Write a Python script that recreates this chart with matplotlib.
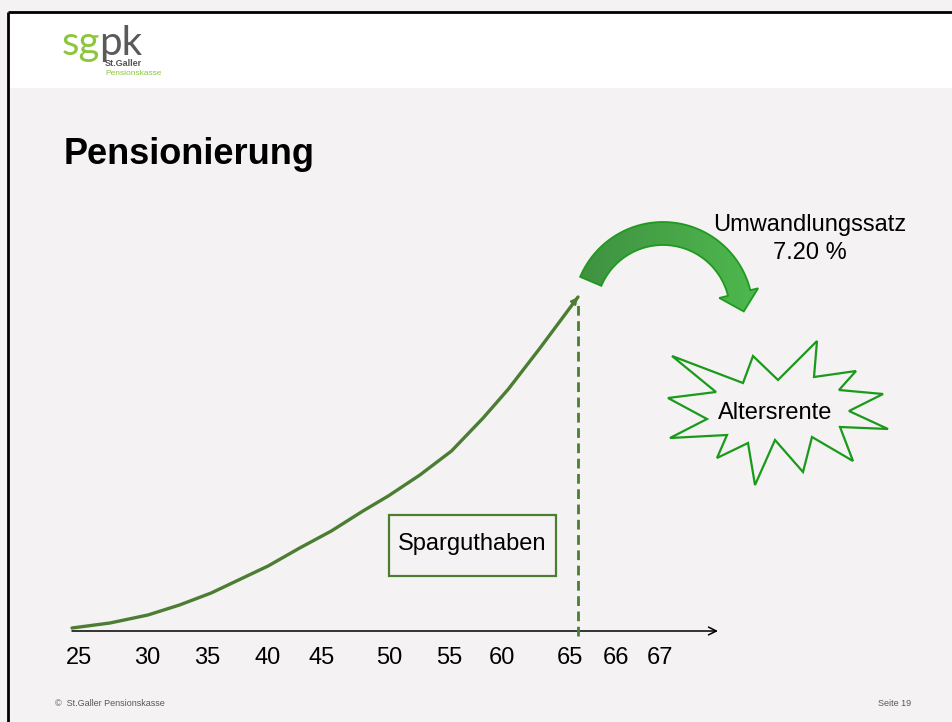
import numpy as np
import matplotlib.pyplot as plt
from matplotlib.patches import Rectangle, Polygon
import matplotlib.colors as mcolors

plt.rcParams['font.family'] = ['Liberation Sans', 'DejaVu Sans']

W, H = 952, 722

# savings balance over age (arbitrary units)
ages = [25, 28, 31, 33.5, 36, 38.5, 40.5, 43, 45.5, 48, 50, 52.5, 55, 57.5, 59.5, 62, 64, 65]
savings = [3, 8, 16, 26, 38, 53, 65, 83, 100, 120, 135, 156, 180, 213, 242, 283, 317, 334]

tick_labels = ['25', '30', '35', '40', '45', '50', '55', '60', '65', '66', '67']
tick_px = [79, 147, 207, 268, 322, 389, 449, 502, 570, 616, 660]

# explosion shape outline (slide pixels)
star_x = [672, 743, 753, 778, 817, 814, 856, 839, 883, 849, 888, 840,
          853, 812, 803, 775, 755, 748, 717, 727, 670, 707, 668, 716]
star_y = [356, 383, 356, 380, 341, 377, 371, 390, 394, 411, 429, 427,
          461, 437, 472, 440, 485, 443, 458, 435, 438, 419, 398, 392]

GREEN = '#4b7d33'
BG = '#f4f2f3'

fig = plt.figure(figsize=(W / 100, H / 100), dpi=100)
fig.patch.set_facecolor(BG)
ax = fig.add_axes([0, 0, 1, 1])
ax.set_axis_off()

# slide frame + white header
ax.add_patch(Rectangle((8, 12), W, 76, facecolor='white', edgecolor='none'))
ax.plot([8, W], [12, 12], color='black', lw=2, solid_capstyle='butt')
ax.plot([8, 8], [12, H], color='black', lw=2, solid_capstyle='butt')

# logo
ax.text(62, 55, 'sg', color='#8cc63e', fontsize=29, family=['Lato', 'DejaVu Sans'],
        va='baseline')
ax.text(99, 55, 'pk', color='#5a5a5a', fontsize=29, family=['Lato', 'DejaVu Sans'],
        va='baseline')
ax.text(105, 66, 'St.Galler', color='#555555', fontsize=6.5, fontweight='bold', va='baseline')
ax.text(105, 75, 'Pensionskasse', color='#8cc63e', fontsize=6, va='baseline')

# title
ax.text(64, 155, 'Pensionierung', fontsize=26, fontweight='bold', va='center')

# x axis with arrow
ax.annotate('', xy=(718, 631), xytext=(72, 631),
            arrowprops=dict(arrowstyle='->', color='black', lw=1.1,
                            shrinkA=0, shrinkB=0, mutation_scale=14))
for lab, xp in zip(tick_labels, tick_px):
    ax.text(xp, 658, lab, fontsize=17, ha='center', va='center')

# Sparguthaben box
ax.add_patch(Rectangle((389, 515), 167, 61, fill=False, edgecolor=GREEN, lw=1.6))
ax.text(472, 544, 'Sparguthaben', fontsize=17, ha='center', va='center')

# curved block arrow
cx, cy, r_o, r_i = 663, 312, 90, 67
t_end = np.radians(14)
th = np.radians(np.linspace(157, 14, 60))
outer = np.column_stack([cx + r_o * np.cos(th), cy - r_o * np.sin(th)])
inner = np.column_stack([cx + r_i * np.cos(th[::-1]), cy - r_i * np.sin(th[::-1])])
r_m = (r_o + r_i) / 2
tang = np.array([np.sin(t_end), np.cos(t_end)])
head_o = [cx + 98 * np.cos(t_end), cy - 98 * np.sin(t_end)]
head_i = [cx + 58 * np.cos(t_end), cy - 58 * np.sin(t_end)]
mid = np.array([cx + r_m * np.cos(t_end), cy - r_m * np.sin(t_end)])
tip = mid + 19 * tang
pts = np.vstack([outer, [head_o], [tip], [head_i], inner])
arrow = Polygon(pts, closed=True, facecolor='none', edgecolor='#1e9a1e', lw=1.3, zorder=3)
ax.add_patch(arrow)
cmap = mcolors.LinearSegmentedColormap.from_list('g', ['#3f8f40', '#4fba4f'])
grad = ax.imshow(np.linspace(0, 1, 100)[None, :], cmap=cmap, aspect='auto',
                 extent=(570, 765, 320, 218), zorder=2)
grad.set_clip_path(Polygon(pts, closed=True, transform=ax.transData))

ax.text(810, 239, 'Umwandlungssatz\n7.20 %', fontsize=17, ha='center', va='center',
        linespacing=1.3)

# Altersrente explosion
ax.add_patch(Polygon(np.column_stack([star_x, star_y]), closed=True,
                     facecolor='none', edgecolor='#1a9a1a', lw=1.6))
ax.text(775, 413, 'Altersrente', fontsize=17, ha='center', va='center')

# footer
ax.text(55, 703, '\u00a9  St.Galler Pensionskasse', fontsize=6.5, color='#595959', va='center')
ax.text(911, 703, 'Seite 19', fontsize=6.5, color='#595959', va='center', ha='right')

ax.set_xlim(0, W)
ax.set_ylim(H, 0)

# savings curve in its own axes
axc = fig.add_axes([72 / W, (H - 631) / H, (578 - 72) / W, (631 - 297) / H])
axc.set_axis_off()
axc.patch.set_alpha(0)
axc.set_xlim(25, 65)
axc.set_ylim(0, 334)
axc.plot(ages, savings, color=GREEN, lw=2.4, solid_capstyle='round',
         solid_joinstyle='round', clip_on=False)
axc.annotate('', xy=(ages[-1], savings[-1]), xytext=(64.5, 326),
             arrowprops=dict(arrowstyle='-|>', color=GREEN, lw=1.5,
                             shrinkA=0, shrinkB=0, mutation_scale=10))
axc.vlines(65, -5, 330, colors=GREEN, lw=2, linestyles=(0, (3.5, 2)), clip_on=False)

fig.savefig('out.png', dpi=100, facecolor=BG)
